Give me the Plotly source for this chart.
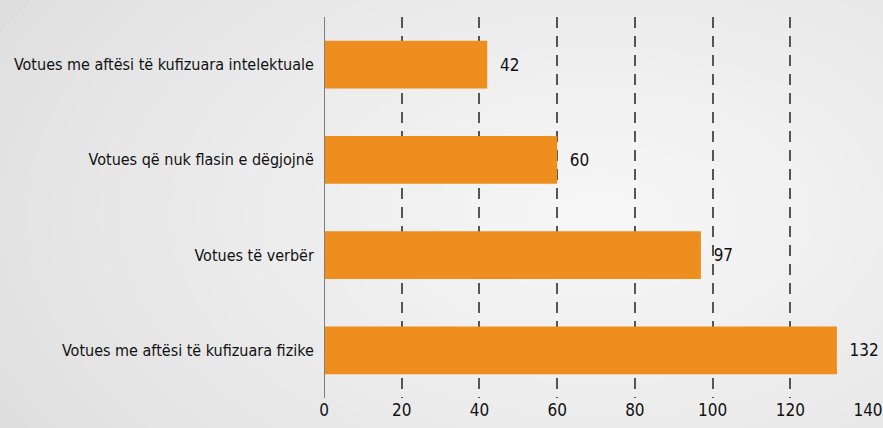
import plotly.graph_objects as go

# Datos
categorias = [
    "Votues me aftësi të kufizuara intelektuale",
    "Votues që nuk flasin e dëgjojnë",
    "Votues të verbër",
    "Votues me aftësi të kufizuara fizike",
]
valores = [42, 60, 97, 132]
ticks_x = [0, 20, 40, 60, 80, 100, 120, 140]

FUENTE = "DejaVu Sans Condensed, Roboto, sans-serif"
NARANJA = "#ED8E1F"

fig = go.Figure()

fig.add_trace(go.Bar(
    x=valores,
    y=categorias,
    orientation="h",
    marker=dict(color=NARANJA, line=dict(width=0)),
    width=0.5,
    text=["  " + str(v) for v in valores],
    textposition="outside",
    textfont=dict(family=FUENTE, size=17, color="#111111"),
    cliponaxis=False,
))

# Fondo con degradado radial (elipses concéntricas), en píxeles -> papel
ANCHO_PLOT, ALTO_PLOT = 544, 381
IZQ, ABAJO = 324, 398
cx_px, cy_px = 600, 215
formas = []
pasos = 30
for i in range(pasos):
    t = i / (pasos - 1)
    gris = int(221 + (247 - 221) * t ** 0.8)
    rx_px = 700 * (1 - t) + 20
    ry_px = 420 * (1 - t) + 12
    formas.append(dict(
        type="circle", xref="paper", yref="paper", layer="below",
        x0=(cx_px - rx_px - IZQ) / ANCHO_PLOT, x1=(cx_px + rx_px - IZQ) / ANCHO_PLOT,
        y0=(ABAJO - cy_px - ry_px) / ALTO_PLOT, y1=(ABAJO - cy_px + ry_px) / ALTO_PLOT,
        fillcolor=f"rgb({gris},{gris},{gris})", line=dict(width=0),
    ))

# Línea del eje en x=0
formas.append(dict(
    type="line", xref="x", yref="paper", x0=0, x1=0, y0=0, y1=1,
    line=dict(color="#7f7f7f", width=2), layer="above",
))

fig.update_layout(
    width=883,
    height=428,
    margin=dict(l=324, r=15, t=17, b=30, autoexpand=False),
    paper_bgcolor="#dedede",
    plot_bgcolor="rgba(0,0,0,0)",
    showlegend=False,
    shapes=formas,
    bargap=0.5,
    font=dict(family=FUENTE, size=16, color="#111111"),
    xaxis=dict(
        range=[0, 140],
        tickvals=ticks_x,
        showgrid=True,
        gridcolor="#555555",
        gridwidth=1.5,
        griddash="11px,8px",
        zeroline=False,
        showline=False,
        ticks="",
        automargin=False,
        tickfont=dict(family=FUENTE, size=17, color="#111111"),
    ),
    yaxis=dict(
        autorange="reversed",
        showgrid=False,
        zeroline=False,
        showline=False,
        ticks="",
        automargin=False,
        ticksuffix="  ",
        tickfont=dict(family=FUENTE, size=16, color="#111111"),
    ),
)

# quitar el margen por defecto del <body> para que la figura empiece en (0,0)
fig.write_html(
    "out.html",
    config={"displayModeBar": False},
    post_script="document.body.style.margin='0';",
)
